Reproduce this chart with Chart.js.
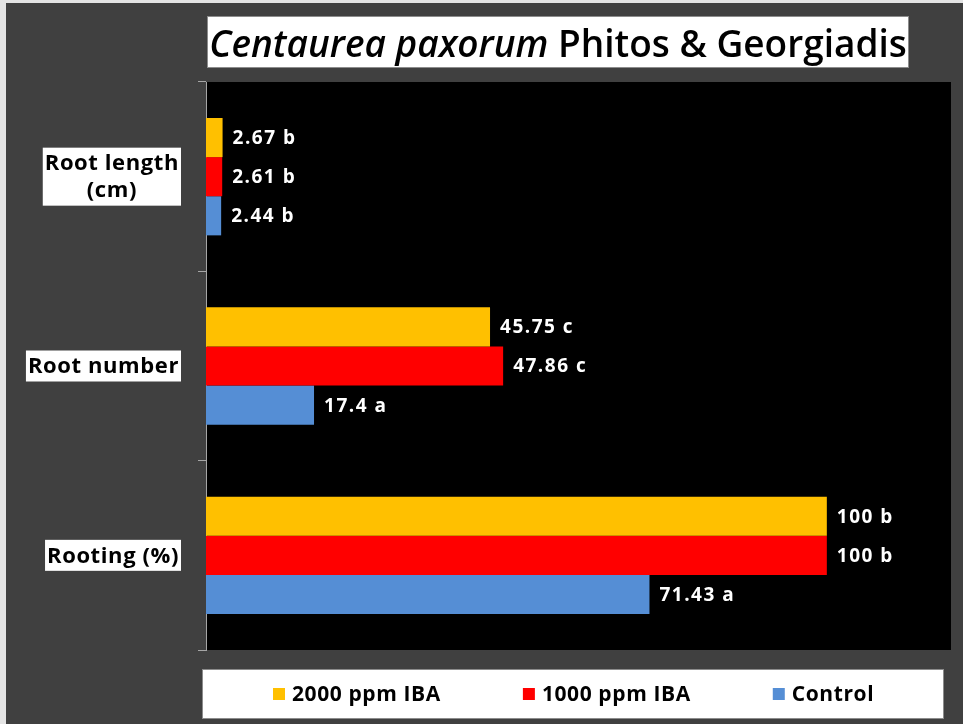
<!DOCTYPE html>
<html>
<head>
<meta charset="utf-8">
<title>Centaurea paxorum rooting</title>
<script src="https://cdn.jsdelivr.net/npm/chart.js@4.4.1/dist/chart.umd.min.js"></script>
<style>
    html, body { margin: 0; padding: 0; background: #404040; }
    #wrap { width: 963px; height: 724px; position: relative; }
</style>
</head>
<body>
<div id="wrap"><canvas id="rootingChart"></canvas></div>
<script>
// Data
const categories = [['Root length', '(cm)'], 'Root number', 'Rooting (%)'];
const seriesNames = ['2000 ppm IBA', '1000 ppm IBA', 'Control'];
const iba2000 = [2.67, 45.75, 100];
const iba1000 = [2.61, 47.86, 100];
const control = [2.44, 17.4, 71.43];
const letters2000 = ['b', 'c', 'b'];
const letters1000 = ['b', 'c', 'b'];
const lettersControl = ['b', 'a', 'a'];
const xMax = 120;

const colors = ['#FFC000', '#FF0000', '#558ED5'];
const FONT = '"Open Sans", sans-serif';

// Background, frame and black plot area
const backdrop = {
    id: 'backdrop',
    beforeDraw(chart) {
        const { ctx, width, height, chartArea: a } = chart;
        ctx.save();
        ctx.fillStyle = '#404040';
        ctx.fillRect(0, 0, width, height);
        ctx.fillStyle = '#e4e4e4';
        ctx.fillRect(0, 0, width, 3);
        ctx.fillRect(0, 0, 6, height);
        ctx.fillStyle = '#000000';
        ctx.fillRect(a.left, a.top, a.right - a.left, a.bottom - a.top);
        ctx.restore();
    }
};

// Title with the species name in italics
const titleBox = {
    id: 'titleBox',
    afterDraw(chart) {
        const { ctx } = chart;
        const box = { x: 207, y: 16, w: 702, h: 52 };
        ctx.save();
        ctx.fillStyle = '#ffffff';
        ctx.fillRect(box.x, box.y, box.w, box.h);
        ctx.strokeStyle = '#8c8c8c';
        ctx.lineWidth = 1;
        ctx.strokeRect(box.x + 0.5, box.y + 0.5, box.w - 1, box.h - 1);

        const parts = [
            { text: 'Centaurea paxorum ', font: 'italic 600 37px ' + FONT },
            { text: 'Phitos & Georgiadis', font: '600 37px ' + FONT }
        ];
        let total = 0;
        parts.forEach(p => { ctx.font = p.font; p.w = ctx.measureText(p.text).width; total += p.w; });
        let x = box.x + box.w / 2 - total / 2;
        ctx.fillStyle = '#000000';
        ctx.textBaseline = 'alphabetic';
        ctx.textAlign = 'left';
        parts.forEach(p => {
            ctx.font = p.font;
            ctx.fillText(p.text, x, 57);
            x += p.w;
        });
        ctx.restore();
    }
};

// Category names in white boxes, right-aligned against the axis
const categoryLabels = {
    id: 'categoryLabels',
    afterDraw(chart) {
        const { ctx } = chart;
        const yScale = chart.scales.y;
        const right = 181;
        const lineH = 27;
        ctx.save();
        ctx.font = 'bold 22px ' + FONT;
        ctx.letterSpacing = '0.6px';
        ctx.textAlign = 'center';
        ctx.textBaseline = 'middle';
        categories.forEach((cat, i) => {
            const lines = Array.isArray(cat) ? cat : [cat];
            const w = Math.max(...lines.map(l => ctx.measureText(l).width)) + 4;
            const h = lines.length * lineH + 4;
            const cy = yScale.getPixelForValue(i);
            const left = right - w;
            ctx.fillStyle = '#ffffff';
            ctx.fillRect(left, cy - h / 2, w, h);
            ctx.fillStyle = '#000000';
            lines.forEach((l, j) => {
                const ly = cy - (lines.length - 1) * lineH / 2 + j * lineH;
                ctx.fillText(l, left + w / 2, ly + 1);
            });
        });
        ctx.restore();
    }
};

// Value and significance letter next to each bar
const valueLabels = {
    id: 'valueLabels',
    afterDatasetsDraw(chart) {
        const { ctx } = chart;
        ctx.save();
        ctx.font = 'bold 19px ' + FONT;
        ctx.letterSpacing = '1.5px';
        ctx.fillStyle = '#ffffff';
        ctx.textAlign = 'left';
        ctx.textBaseline = 'middle';
        chart.data.datasets.forEach((ds, di) => {
            chart.getDatasetMeta(di).data.forEach((bar, i) => {
                ctx.fillText(ds.data[i] + ' ' + ds.letters[i], bar.x + 10, bar.y + 1);
            });
        });
        ctx.restore();
    }
};

// Legend in a white box under the plot
const legendBox = {
    id: 'legendBox',
    afterDraw(chart) {
        const { ctx } = chart;
        const box = { x: 202, y: 669, w: 742, h: 50 };
        const sq = 12, gapText = 7, gapItem = 82;
        ctx.save();
        ctx.fillStyle = '#ffffff';
        ctx.fillRect(box.x, box.y, box.w, box.h);
        ctx.strokeStyle = '#8c8c8c';
        ctx.strokeRect(box.x + 0.5, box.y + 0.5, box.w - 1, box.h - 1);
        ctx.font = 'bold 21px ' + FONT;
        ctx.letterSpacing = '0.6px';
        const items = chart.data.datasets.map(ds => ({
            label: ds.label, color: ds.backgroundColor, w: sq + gapText + ctx.measureText(ds.label).width
        }));
        let x = 273;
        const cy = box.y + box.h / 2;
        ctx.textBaseline = 'middle';
        ctx.textAlign = 'left';
        items.forEach(it => {
            ctx.fillStyle = it.color;
            ctx.fillRect(x, cy - sq / 2, sq, sq);
            ctx.fillStyle = '#000000';
            ctx.fillText(it.label, x + sq + gapText, cy + 1);
            x += it.w + gapItem;
        });
        ctx.restore();
    }
};

const seriesValues = [iba2000, iba1000, control];
const seriesLetters = [letters2000, letters1000, lettersControl];

const ctx = document.getElementById('rootingChart').getContext('2d');
const rootingChart = new Chart(ctx, {
    type: 'bar',
    data: {
        labels: categories,
        datasets: seriesNames.map((name, i) => ({
            label: name,
            data: seriesValues[i],
            letters: seriesLetters[i],
            backgroundColor: colors[i],
            borderWidth: 0,
            barPercentage: 1,
            categoryPercentage: 0.62
        }))
    },
    options: {
        indexAxis: 'y',
        responsive: true,
        maintainAspectRatio: false,
        devicePixelRatio: 1,
        animation: false,
        layout: {
            padding: { top: 82, right: 12, bottom: 74, left: 0 }
        },
        scales: {
            x: {
                display: false,
                min: 0,
                max: xMax
            },
            y: {
                offset: true,
                grid: {
                    display: true,
                    offset: true,
                    drawOnChartArea: false,
                    drawTicks: true,
                    tickLength: 8,
                    color: '#a6a6a6'
                },
                border: { display: true, color: '#a6a6a6' },
                ticks: { display: false },
                afterFit: scale => { scale.width = 206; }
            }
        },
        plugins: {
            legend: { display: false },
            title: { display: false },
            tooltip: { enabled: false }
        }
    },
    plugins: [backdrop, titleBox, categoryLabels, valueLabels, legendBox]
});
</script>
</body>
</html>
